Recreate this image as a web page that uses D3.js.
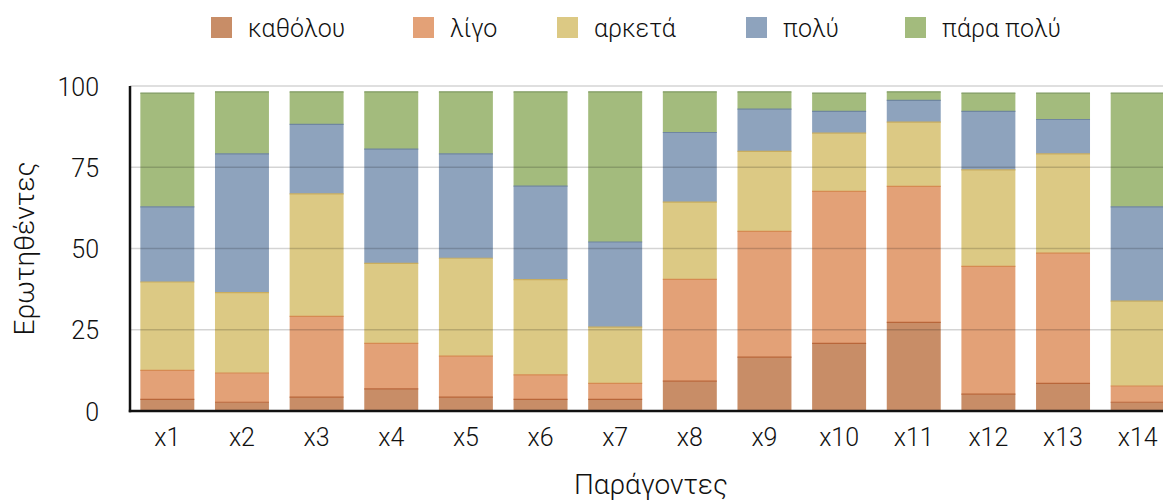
<!DOCTYPE html>
<html lang="el">
<head>
  <meta charset="utf-8">
  <script src="https://d3js.org/d3.v7.min.js"></script>
  <style>
    body { margin: 0; background: #fff; }
    text { font-family: Roboto, "Liberation Sans", Arial, sans-serif; font-weight: 300; fill: #111; }
  </style>
</head>
<body>
  <script>
    // data (percent of respondents)
    var factors = ["x1", "x2", "x3", "x4", "x5", "x6", "x7", "x8", "x9", "x10", "x11", "x12", "x13", "x14"];
    var levels = ["καθόλου", "λίγο", "αρκετά", "πολύ", "πάρα πολύ"];

    var notAtAll = [3.6, 2.7, 4.3, 6.8, 4.3, 3.6, 3.6, 9.2, 16.6, 20.8, 27.3, 5.2, 8.5, 2.7];
    var little   = [8.9, 9.0, 24.8, 14.0, 12.6, 7.5, 4.9, 31.3, 38.7, 46.8, 41.8, 39.3, 40.1, 5.0];
    var enough   = [27.2, 24.7, 37.7, 24.6, 30.1, 29.3, 17.3, 23.8, 24.6, 17.9, 19.8, 29.7, 30.5, 26.1];
    var much     = [23.1, 42.7, 21.4, 35.2, 32.1, 28.8, 26.2, 21.4, 13.0, 6.7, 6.7, 18.0, 10.6, 29.0];
    var veryMuch = [35.0, 19.1, 10.0, 17.6, 19.1, 29.0, 46.2, 12.5, 5.3, 5.6, 2.6, 5.6, 8.1, 35.0];

    var yTicks = [0, 25, 50, 75, 100];

    var colors = ["#c88d67", "#e3a177", "#dcc984", "#8ea3bd", "#a3bb7d"];
    var edgeColors = ["#b8663a", "#d68a52", "#c9ad5e", "#6f86a0", "#7f9a62"];

    var width = 1163, height = 500;
    var margin = {top: 86, left: 130, bottom: 89};

    var rows = factors.map(function(f, i) {
      return {
        factor: f,
        "καθόλου": notAtAll[i],
        "λίγο": little[i],
        "αρκετά": enough[i],
        "πολύ": much[i],
        "πάρα πολύ": veryMuch[i]
      };
    });

    var stacked = d3.stack().keys(levels)(rows);

    var svg = d3.select("body").append("svg")
      .attr("width", width)
      .attr("height", height);

    var x = d3.scaleBand()
      .domain(factors)
      .range([margin.left, 1175])
      .paddingInner(0.277)
      .paddingOuter(0.1385);

    var y = d3.scaleLinear()
      .domain([0, 100])
      .range([height - margin.bottom, margin.top]);

    var color = d3.scaleOrdinal().domain(levels).range(colors);
    var edge = d3.scaleOrdinal().domain(levels).range(edgeColors);

    // bars
    var layer = svg.append("g")
      .selectAll("g")
      .data(stacked)
      .enter().append("g")
        .attr("fill", d => color(d.key));

    layer.selectAll("rect")
      .data(d => d)
      .enter().append("rect")
        .attr("x", d => x(d.data.factor))
        .attr("y", d => y(d[1]))
        .attr("width", x.bandwidth())
        .attr("height", d => y(d[0]) - y(d[1]));

    // thin darker edge on top of each segment
    stacked.forEach(function(s) {
      svg.append("g")
        .selectAll("line")
        .data(s)
        .enter().append("line")
          .attr("x1", d => x(d.data.factor))
          .attr("x2", d => x(d.data.factor) + x.bandwidth())
          .attr("y1", d => y(d[1]))
          .attr("y2", d => y(d[1]))
          .attr("stroke", edge(s.key))
          .attr("stroke-width", 1.2);
    });

    // grid lines drawn over the bars, faint
    svg.append("g")
      .selectAll("line")
      .data(yTicks.slice(1))
      .enter().append("line")
        .attr("x1", margin.left)
        .attr("x2", width)
        .attr("y1", d => y(d))
        .attr("y2", d => y(d))
        .attr("stroke", "#000")
        .attr("stroke-opacity", 0.17)
        .attr("stroke-width", 1.5);

    // axes
    var yAxis = d3.axisLeft(y).tickValues(yTicks).tickSize(0).tickPadding(31);
    var yg = svg.append("g")
      .attr("transform", "translate(" + margin.left + ",0)")
      .call(yAxis);
    yg.select(".domain").remove();
    yg.attr("font-family", null).attr("font-size", null);
    yg.selectAll("text")
      .style("font-size", "25px")
      .attr("dy", "0.36em");

    var xAxis = d3.axisBottom(x).tickSize(0).tickPadding(17);
    var xg = svg.append("g")
      .attr("transform", "translate(0," + y(0) + ")")
      .call(xAxis);
    xg.select(".domain").remove();
    xg.attr("font-family", null).attr("font-size", null);
    xg.selectAll("text")
      .style("font-size", "25px");

    svg.append("line")
      .attr("x1", margin.left).attr("x2", margin.left)
      .attr("y1", y(100)).attr("y2", y(0) + 1.2)
      .attr("stroke", "#111").attr("stroke-width", 2.5);
    svg.append("line")
      .attr("x1", margin.left - 1.2).attr("x2", width)
      .attr("y1", y(0)).attr("y2", y(0))
      .attr("stroke", "#111").attr("stroke-width", 2.5);

    // axis titles
    svg.append("text")
      .attr("transform", "translate(" + [34, (y(0) + y(100)) / 2] + ") rotate(-90)")
      .attr("text-anchor", "middle")
      .style("font-size", "28px")
      .text("Ερωτηθέντες");

    svg.append("text")
      .attr("x", 651)
      .attr("y", 494)
      .attr("text-anchor", "middle")
      .style("font-size", "28px")
      .text("Παράγοντες");

    // legend
    var legendX = [211, 413, 557, 746, 905];
    var legend = svg.append("g")
      .selectAll("g")
      .data(levels)
      .enter().append("g")
        .attr("transform", (d, i) => "translate(" + [legendX[i], 17] + ")");

    legend.append("rect")
      .attr("width", 21)
      .attr("height", 21)
      .attr("fill", d => color(d));

    legend.append("text")
      .attr("x", 37)
      .attr("y", 11)
      .attr("dy", "0.36em")
      .style("font-size", "25px")
      .text(d => d);
  </script>
</body>
</html>
